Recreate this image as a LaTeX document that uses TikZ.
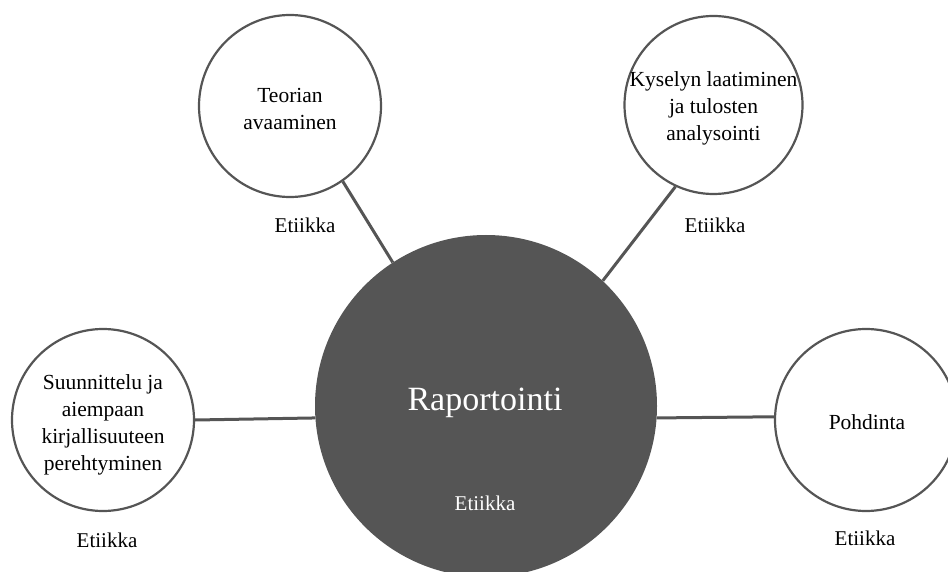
\documentclass[tikz,border=0pt]{standalone}
\usepackage{fontspec}
\setmainfont{Liberation Serif}
\definecolor{dk}{HTML}{555555}
\begin{document}
\begin{tikzpicture}[x=1pt,y=-1pt,
  bub/.style={circle,draw=dk,line width=2.2pt,fill=white,inner sep=0pt},
  btxt/.style={inner sep=0pt,align=center,font=\fontsize{21.5}{27}\selectfont},
  lbl/.style={inner sep=0pt,font=\fontsize{21}{27}\selectfont},
  conn/.style={draw=dk,line width=3pt}]
\useasboundingbox (0,0) rectangle (948,572);
\node[circle,fill=dk,minimum size=342pt,inner sep=0pt] (main) at (486,406) {};
\node[text=white,font=\fontsize{34}{40}\selectfont,inner sep=0pt] (mt) at (485,403) {Raportointi};
\node[lbl,text=white] (me) at (485,503) {Etiikka};
\node[bub,minimum size=182pt] (tl) at (290,106) {};
\node[bub,minimum size=178pt] (tr) at (713.5,105) {};
\node[bub,minimum size=182pt] (lf) at (103,420) {};
\node[bub,minimum size=182pt] (rt) at (866,420) {};
\node[btxt] (tlt) at (290,109) {Teorian\\avaaminen};
\node[btxt] (trt) at (713.5,108.5) {Kyselyn laatiminen\\ja tulosten\\analysointi};
\node[btxt] (lft) at (103,425) {Suunnittelu ja\\aiempaan\\kirjallisuuteen\\perehtyminen};
\node[btxt] (rtt) at (867,422) {Pohdinta};
\node[lbl] (tle) at (305,225) {Etiikka};
\node[lbl] (tre) at (715,225) {Etiikka};
\node[lbl] (lfe) at (107,540) {Etiikka};
\node[lbl] (rte) at (865,538) {Etiikka};
\draw[conn] (tl.305) -- (main.123);
\draw[conn] (tr.245) -- (main.47);
\draw[conn] (lf.0) -- (main.184.7);
\draw[conn] (rt.178) -- (main.356.3);
\end{tikzpicture}
\end{document}
